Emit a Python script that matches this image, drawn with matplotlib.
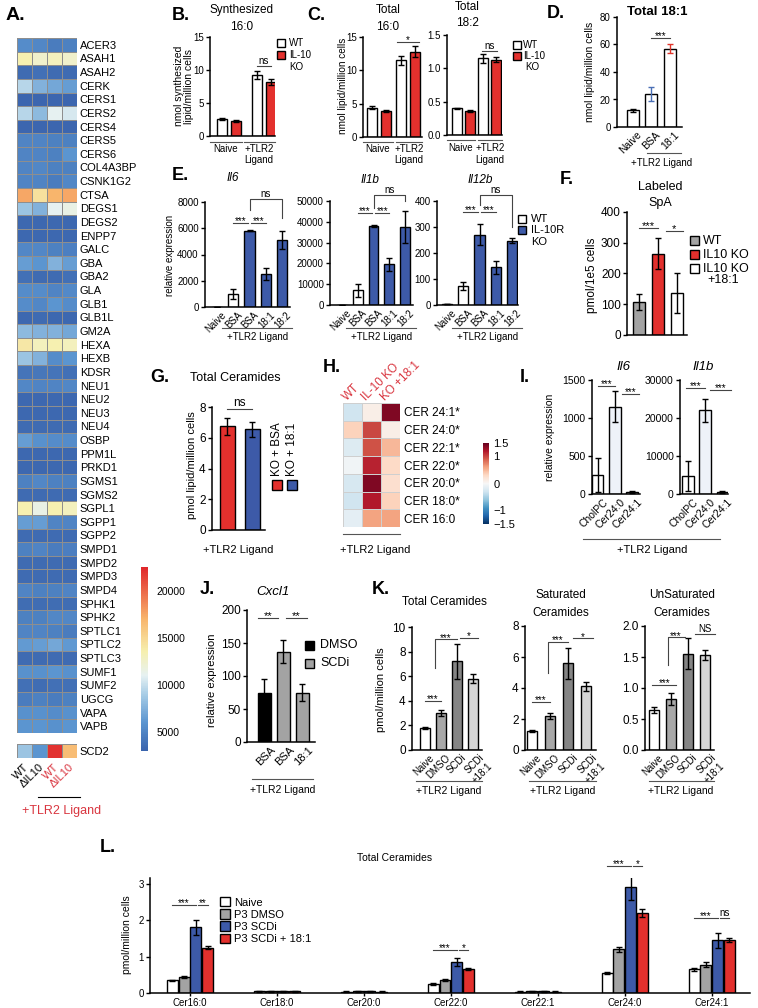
import numpy as np
import matplotlib
matplotlib.use('Agg')
import matplotlib.pyplot as plt
from matplotlib.colors import LinearSegmentedColormap
from matplotlib.patches import Rectangle
from matplotlib.lines import Line2D

W, H = 758, 1008
plt.rcParams['font.family'] = ['Liberation Sans', 'DejaVu Sans']
plt.rcParams['axes.linewidth'] = 1.1
plt.rcParams['xtick.major.width'] = 1.0
plt.rcParams['ytick.major.width'] = 1.0
plt.rcParams['xtick.major.size'] = 3
plt.rcParams['ytick.major.size'] = 3
plt.rcParams['xtick.labelsize'] = 7
plt.rcParams['ytick.labelsize'] = 7
plt.rcParams['xtick.major.pad'] = 1.5
plt.rcParams['ytick.major.pad'] = 1.5

RED = '#e3302d'
BLUE = '#3d5aa8'
GREY = '#a3a3a3'
SIG = '#444444'
LABRED = '#d9353f'

# ---------------- data ----------------
genes = ['ACER3', 'ASAH1', 'ASAH2', 'CERK', 'CERS1', 'CERS2', 'CERS4', 'CERS5', 'CERS6',
         'COL4A3BP', 'CSNK1G2', 'CTSA', 'DEGS1', 'DEGS2', 'ENPP7', 'GALC', 'GBA', 'GBA2',
         'GLA', 'GLB1', 'GLB1L', 'GM2A', 'HEXA', 'HEXB', 'KDSR', 'NEU1', 'NEU2', 'NEU3',
         'NEU4', 'OSBP', 'PPM1L', 'PRKD1', 'SGMS1', 'SGMS2', 'SGPL1', 'SGPP1', 'SGPP2',
         'SMPD1', 'SMPD2', 'SMPD3', 'SMPD4', 'SPHK1', 'SPHK2', 'SPTLC1', 'SPTLC2', 'SPTLC3',
         'SUMF1', 'SUMF2', 'UGCG', 'VAPA', 'VAPB']
gene_expr = [
    [5500, 5200, 4500, 4800], [13500, 12500, 13000, 12500], [3500, 3800, 3500, 3500],
    [9500, 7500, 7000, 6500], [3200, 3200, 3200, 3200], [9500, 8000, 11000, 10500],
    [3200, 3200, 3200, 3200], [5000, 5000, 4800, 4800], [5000, 5000, 4800, 6000],
    [5000, 5200, 4800, 4800], [5000, 5000, 4500, 5200], [17500, 14500, 17000, 17500],
    [8500, 7500, 11000, 11500], [3300, 3300, 3300, 3300], [3300, 3300, 3300, 3300],
    [5200, 5200, 4800, 4700], [6500, 6000, 7500, 6500], [3800, 3500, 3500, 3800],
    [5500, 5500, 5000, 5300], [5500, 5200, 6000, 5500], [3300, 3500, 3300, 3300],
    [8000, 7500, 7500, 7000], [14000, 13000, 13500, 13000], [8500, 7500, 5500, 6000],
    [4000, 4200, 4000, 3800], [5200, 5000, 5000, 5200], [3300, 3300, 3300, 3300],
    [3300, 3300, 3300, 3300], [3500, 3500, 3500, 3500], [6500, 5800, 5500, 5500],
    [3300, 3300, 3300, 3300], [3300, 3300, 3300, 3300], [4800, 5200, 4800, 4800],
    [3500, 3500, 3500, 3500], [13500, 11500, 13500, 13000], [6500, 6500, 5000, 5000],
    [3500, 3500, 3500, 3500], [4800, 5000, 4500, 4600], [3500, 3500, 3500, 3500],
    [3500, 3500, 3500, 3500], [5000, 4800, 4800, 5000], [3600, 3600, 3600, 3600],
    [4800, 4800, 5200, 5200], [5000, 5000, 4800, 4500], [6300, 6500, 7000, 6200],
    [3500, 3500, 3500, 3500], [5800, 5800, 6000, 5800], [3800, 3600, 3800, 3800],
    [4500, 4800, 4500, 4800], [5800, 5800, 5500, 5800], [6000, 6000, 5800, 6000],
]
scd2_expr = [8500, 6000, 22000, 16500]
a_cols = ['WT', 'ΔIL10', 'WT', 'ΔIL10']

b_vals = [2.6, 2.3, 9.2, 8.2]
b_err = [0.15, 0.15, 0.6, 0.5]
c160_vals = [4.4, 3.9, 11.5, 12.8]
c160_err = [0.2, 0.2, 0.7, 0.8]
c182_vals = [0.40, 0.36, 1.15, 1.13]
c182_err = [0.01, 0.01, 0.07, 0.04]

d_labels = ['Naive', 'BSA', '18:1']
d_vals = [12, 24, 57]
d_err = [1.2, 5, 3]

e_labels = ['Naive', 'BSA', 'BSA', '18:1', '18:2']
il6_vals = [20, 1000, 5800, 2500, 5100]
il6_err = [10, 400, 40, 450, 700]
il1b_vals = [100, 7000, 38000, 19500, 37500]
il1b_err = [50, 3000, 500, 3000, 7500]
il12b_vals = [3, 72, 270, 145, 248]
il12b_err = [1, 15, 40, 25, 10]

f_vals = [107, 265, 135]
f_err = [25, 50, 65]

g_vals = [6.75, 6.55]
g_err = [0.55, 0.5]

h_rows = ['CER 24:1*', 'CER 24:0*', 'CER 22:1*', 'CER 22:0*', 'CER 20:0*', 'CER 18:0*', 'CER 16:0']
h_cols = ['WT', 'IL-10 KO', 'KO +18:1']
h_z = [[-0.3, 0.1, 1.4],
       [0.35, 1.0, 0.1],
       [-0.2, 0.95, 0.5],
       [-0.05, 1.15, 0.3],
       [-0.25, 1.4, 0.25],
       [-0.3, 1.2, 0.35],
       [-0.15, 0.6, 0.6]]

i_labels = ['CholPC', 'Cer24:0', 'Cer24:1']
i_il6 = [250, 1150, 25]
i_il6_err = [220, 200, 10]
i_il1b = [4700, 22000, 500]
i_il1b_err = [4000, 3000, 200]

j_labels = ['BSA', 'BSA', '18:1']
j_vals = [75, 137, 75]
j_err = [20, 18, 13]

k_labels = ['Naive', 'DMSO', 'SCDi', 'SCDi\n+18:1']
k_total = [1.8, 3.0, 7.2, 5.8]
k_total_err = [0.1, 0.25, 1.4, 0.35]
k_sat = [1.2, 2.2, 5.6, 4.1]
k_sat_err = [0.06, 0.2, 1.0, 0.3]
k_unsat = [0.65, 0.82, 1.55, 1.53]
k_unsat_err = [0.05, 0.1, 0.25, 0.08]

l_species = ['Cer16:0', 'Cer18:0', 'Cer20:0', 'Cer22:0', 'Cer22:1', 'Cer24:0', 'Cer24:1']
l_groups = ['Naive', 'P3 DMSO', 'P3 SCDi', 'P3 SCDi + 18:1']
l_naive = [0.35, 0.05, 0.04, 0.25, 0.04, 0.55, 0.65]
l_dmso = [0.45, 0.05, 0.05, 0.35, 0.05, 1.2, 0.78]
l_scdi = [1.8, 0.05, 0.05, 0.85, 0.05, 2.9, 1.45]
l_scdi181 = [1.25, 0.05, 0.04, 0.65, 0.04, 2.2, 1.45]
l_naive_err = [0.02, 0.01, 0.01, 0.02, 0.01, 0.03, 0.05]
l_dmso_err = [0.03, 0.01, 0.01, 0.03, 0.01, 0.06, 0.06]
l_scdi_err = [0.2, 0.01, 0.01, 0.12, 0.01, 0.35, 0.2]
l_scdi181_err = [0.05, 0.01, 0.01, 0.03, 0.01, 0.1, 0.06]

# ---------------- helpers ----------------
fig = plt.figure(figsize=(W / 100, H / 100), dpi=100)


def px_ax(x0, y0, x1, y1):
    return fig.add_axes([x0 / W, 1 - y1 / H, (x1 - x0) / W, (y1 - y0) / H])


def ftext(x, y, s, **kw):
    kw.setdefault('ha', 'center')
    kw.setdefault('va', 'center')
    return fig.text(x / W, 1 - y / H, s, **kw)


def fline(x0, x1, y, color='#555555', lw=0.8):
    fig.add_artist(Line2D([x0 / W, x1 / W], [1 - y / H, 1 - y / H], color=color, lw=lw))


def fbox(x, y, s, fc, lw=1.0):
    fig.add_artist(Rectangle((x / W, 1 - (y + s) / H), s / W, s / H, facecolor=fc,
                             edgecolor='black', lw=lw, transform=fig.transFigure))


def bar_ax(rect, pos, vals, errs, colors, width, xlim, ylim, yticks, ytl=None, ecolors=None):
    ax = px_ax(*rect)
    ax.bar(pos, vals, width, color=colors, edgecolor='black', linewidth=1.0, zorder=2)
    ec = ecolors or ['black'] * len(vals)
    for p, v, e, c in zip(pos, vals, errs, ec):
        ax.errorbar(p, v, yerr=e, fmt='none', ecolor=c, elinewidth=1.0, capsize=2.2,
                    capthick=1.0, zorder=3)
    ax.set_xlim(*xlim)
    ax.set_ylim(*ylim)
    ax.set_yticks(yticks)
    ax.set_yticklabels(ytl if ytl else [str(t) for t in yticks])
    ax.spines[['top', 'right']].set_visible(False)
    ax.set_xticks([])
    ax.patch.set_alpha(0)
    return ax


def rot_ticks(ax, pos, labels, fs=7):
    ax.set_xticks(pos)
    ax.set_xticklabels(labels, rotation=45, ha='right', rotation_mode='anchor', fontsize=fs)
    ax.tick_params(axis='x', length=0, pad=2)


def sig(ax, x0, x1, y, txt, legs=None, fs=7):
    if legs:
        xs, ys = [x0, x0, x1, x1], [legs[0], y, y, legs[1]]
    else:
        xs, ys = [x0, x1], [y, y]
    ax.plot(xs, ys, color=SIG, lw=0.8, clip_on=False, zorder=4)
    off = -2.5 if '*' in txt else 0
    ax.annotate(txt, ((x0 + x1) / 2, y), xytext=(0, off), textcoords='offset points',
                ha='center', va='bottom', fontsize=fs, annotation_clip=False)


def ylab(x, y, s, fs=7.5):
    ftext(x, y, s, rotation=90, fontsize=fs, linespacing=1.0)


def letter(x, y, s, fs=13):
    ftext(x, y, s, fontsize=fs, fontweight='bold', ha='left')


# ---------------- A: heatmap ----------------
cmap_a = LinearSegmentedColormap.from_list('a', [
    (0.0, '#3a64ad'), (0.154, '#5b95d0'), (0.308, '#a8cde6'), (0.41, '#e6f1f2'),
    (0.538, '#f6f0b0'), (0.718, '#f8b56c'), (1.0, '#e0262a')])
ax = px_ax(17, 38, 77, 733)
mesh = ax.pcolormesh(np.array(gene_expr), cmap=cmap_a, vmin=3000, vmax=22500,
                     edgecolors='#8e8e8e', linewidth=0.7)
ax.set_xlim(0, 4)
ax.set_ylim(len(genes), 0)
ax.set_xticks([])
ax.yaxis.tick_right()
ax.set_yticks(np.arange(len(genes)) + 0.5)
ax.set_yticklabels(genes, fontsize=8)
ax.tick_params(axis='y', length=0, pad=2)
for s in ax.spines.values():
    s.set_visible(False)

ax = px_ax(17, 744, 77, 758)
ax.pcolormesh(np.array([scd2_expr]), cmap=cmap_a, vmin=3000, vmax=22500,
              edgecolors='#8e8e8e', linewidth=0.7)
ax.set_xlim(0, 4)
ax.set_xticks(np.arange(4) + 0.4)
ax.set_xticklabels(a_cols, rotation=45, ha='right', va='top', rotation_mode='anchor', fontsize=8)
for t, c in zip(ax.get_xticklabels(), ['black', 'black', LABRED, LABRED]):
    t.set_color(c)
ax.tick_params(axis='x', length=0, pad=3)
ax.yaxis.tick_right()
ax.set_yticks([0.5])
ax.set_yticklabels(['SCD2'], fontsize=8)
ax.tick_params(axis='y', length=0, pad=2)
for s in ax.spines.values():
    s.set_visible(False)
fline(38, 80, 797, color='black')
ftext(62, 811, '+TLR2 Ligand', color=LABRED, fontsize=9)

cax = px_ax(141, 567, 148, 751)
cb = fig.colorbar(mesh, cax=cax)
cb.outline.set_visible(False)
cb.set_ticks([5000, 10000, 15000, 20000])
cb.set_ticklabels(['5000', '10000', '15000', '20000'])
cax.tick_params(length=0, labelsize=7.5, pad=6)
letter(6, 16, 'A.', fs=14)

# ---------------- B ----------------
pos4 = [0, 1, 2.5, 3.5]
ax = bar_ax((210, 37, 275, 136), pos4, b_vals, b_err, ['white', RED, 'white', RED], 0.7,
            (-0.86, 3.8), (0, 15), [0, 5, 10, 15])
sig(ax, 2.5, 3.5, 10.6, 'ns')
letter(172, 15, 'B.')
ftext(242, 10, 'Synthesized', fontsize=8.5)
ftext(242, 27, '16:0', fontsize=8.5)
ylab(184, 86, 'nmol synthesized\nlipid/million cells')
fline(210, 242, 142)
fline(244, 275, 142)
ftext(226, 149, 'Naive', fontsize=7)
ftext(259, 149, '+TLR2', fontsize=7)
ftext(259, 160, 'Ligand', fontsize=7)
fbox(277, 39, 8, 'white')
fbox(277, 51, 8, RED)
ftext(289, 43, 'WT', fontsize=7, ha='left')
ftext(289, 55, 'IL-10', fontsize=7, ha='left')
ftext(289, 67, 'KO', fontsize=7, ha='left')

# ---------------- C ----------------
pos4c = [0, 1, 2.1, 3.1]
ax = bar_ax((363, 37, 422, 137), pos4c, c160_vals, c160_err, ['white', RED, 'white', RED], 0.72,
            (-0.64, 3.6), (0, 15), [0, 5, 10, 15])
sig(ax, 1.8, 3.4, 14.3, '*')
fline(363, 393, 142)
fline(396, 422, 142)
ftext(378, 149, 'Naive', fontsize=7)
ftext(409, 149, '+TLR2', fontsize=7)
ftext(409, 160, 'Ligand', fontsize=7)
ftext(388, 10, 'Total', fontsize=8.5)
ftext(388, 27, '16:0', fontsize=8.5)
ylab(343, 86, 'nmol lipid/million cells', fs=7.2)
letter(307, 15, 'C.')

ax = bar_ax((447, 35, 502, 135), [0, 1, 2, 3], c182_vals, c182_err, ['white', RED, 'white', RED],
            0.72, (-0.77, 3.46), (0, 1.5), [0, 0.5, 1.0, 1.5], ['0.0', '0.5', '1.0', '1.5'])
sig(ax, 1.9, 3.1, 1.26, 'ns')
fline(447, 475, 140)
fline(478, 502, 140)
ftext(461, 148, 'Naive', fontsize=7)
ftext(490, 148, '+TLR2', fontsize=7)
ftext(490, 160, 'Ligand', fontsize=7)
ftext(467, 7, 'Total', fontsize=8.5)
ftext(467, 23, '18:2', fontsize=8.5)
fbox(513, 41, 8, 'white')
fbox(513, 52, 8, RED)
ftext(523, 45, 'WT', fontsize=7, ha='left')
ftext(523, 56, 'IL-10', fontsize=7, ha='left')
ftext(525, 67, 'KO', fontsize=7, ha='left')

# ---------------- D ----------------
ax = bar_ax((617, 17, 682, 127), [0, 1, 2], d_vals, d_err, ['white'] * 3, 0.65,
            (-0.86, 2.65), (0, 80), [0, 20, 40, 60, 80],
            ecolors=['black', '#4a6fb5', '#e0352b'])
rot_ticks(ax, [0.2, 1.2, 2.2], d_labels, fs=7.5)
sig(ax, 1, 2, 65, '***')
fline(647, 681, 153)
ftext(662, 163, '+TLR2 Ligand', fontsize=7)
ftext(657, 12, 'Total 18:1', fontsize=9.5, fontweight='bold')
ylab(590, 72, 'nmol lipid/million cells')
letter(547, 13, 'D.')

# ---------------- E ----------------
e_cols = ['white', 'white', BLUE, BLUE, BLUE]
pos5 = [0, 1, 2, 3, 4]
ax = bar_ax((205, 202, 290, 307), pos5, il6_vals, il6_err, e_cols, 0.62, (-0.74, 4.49),
            (0, 8000), [0, 2000, 4000, 6000, 8000])
rot_ticks(ax, [p + 0.25 for p in pos5], e_labels)
sig(ax, 1, 1.9, 6400, '***')
sig(ax, 2.1, 3, 6400, '***')
sig(ax, 2, 4, 8200, 'ns', legs=(7400, 6800))
ftext(233, 178, 'Il6', fontsize=8.5, style='italic')
ylab(170, 255, 'relative expression', fs=7)
fline(222, 292, 328)
ftext(258, 337, '+TLR2 Ligand', fontsize=7)
letter(172, 176, 'E.')

ax = bar_ax((330, 201, 413, 305), pos5, il1b_vals, il1b_err, e_cols, 0.62, (-0.76, 4.5),
            (0, 50000), [0, 10000, 20000, 30000, 40000, 50000])
rot_ticks(ax, [p + 0.25 for p in pos5], e_labels)
sig(ax, 1, 1.9, 44200, '***')
sig(ax, 2.1, 3, 44200, '***')
sig(ax, 2, 4, 52900, 'ns', legs=(46500, 50000))
ftext(370, 180, 'Il1b', fontsize=8.5, style='italic')
fline(346, 416, 328)
ftext(382, 337, '+TLR2 Ligand', fontsize=7)

ax = bar_ax((437, 201, 518, 305), pos5, il12b_vals, il12b_err, e_cols, 0.62, (-0.62, 4.37),
            (0, 400), [0, 100, 200, 300, 400])
rot_ticks(ax, [p + 0.25 for p in pos5], e_labels)
sig(ax, 1, 1.9, 358, '***')
sig(ax, 2.1, 3, 358, '***')
sig(ax, 2, 4, 423, 'ns', legs=(385, 300))
ftext(480, 180, 'Il12b', fontsize=8.5, style='italic')
fline(452, 522, 328)
ftext(488, 337, '+TLR2 Ligand', fontsize=7)
fbox(518, 215, 8, 'white')
fbox(518, 226, 8, BLUE)
ftext(531, 219, 'WT', fontsize=8, ha='left')
ftext(531, 230, 'IL-10R', fontsize=8, ha='left')
ftext(531, 242, 'KO', fontsize=8, ha='left')

# ---------------- F ----------------
ax = bar_ax((627, 212, 687, 335), [0, 1, 2], f_vals, f_err, [GREY, RED, 'white'], 0.63,
            (-0.63, 2.53), (0, 400), [0, 100, 200, 300, 400])
ax.tick_params(axis='y', labelsize=8.5)
sig(ax, 0, 1, 348, '***', fs=8)
sig(ax, 1.4, 2.3, 339, '*', fs=8)
ftext(660, 187, 'Labeled', fontsize=9)
ftext(660, 203, 'SpA', fontsize=9)
ylab(592, 275, 'pmol/1e5 cells', fs=8.5)
letter(560, 180, 'F.')
fbox(690, 236, 9, GREY)
fbox(690, 250, 9, RED)
fbox(690, 264, 9, 'white')
ftext(703, 241, 'WT', fontsize=9, ha='left')
ftext(703, 255, 'IL10 KO', fontsize=9, ha='left')
ftext(703, 269, 'IL10 KO', fontsize=9, ha='left')
ftext(707, 280, '+18:1', fontsize=9, ha='left')

# ---------------- G ----------------
ax = bar_ax((212, 407, 265, 530), [0, 1], g_vals, g_err, [RED, BLUE], 0.6, (-0.6, 1.52),
            (0, 8), [0, 2, 4, 6, 8])
ax.tick_params(axis='y', labelsize=8.5)
sig(ax, 0, 1, 7.9, 'ns', fs=8.5)
ftext(235, 378, 'Total Ceramides', fontsize=9)
ylab(192, 465, 'pmol lipid/million cells', fs=8)
ftext(238, 550, '+TLR2 Ligand', fontsize=8)
letter(150, 378, 'G.')
fbox(272, 480, 10, RED)
fbox(287, 480, 10, BLUE)
ftext(277, 476, 'KO + BSA', rotation=90, fontsize=8.5, va='bottom')
ftext(292, 476, 'KO + 18:1', rotation=90, fontsize=8.5, va='bottom')

# ---------------- H ----------------
ax = px_ax(343, 403, 400, 527)
hm = ax.pcolormesh(np.array(h_z), cmap='RdBu_r', vmin=-1.5, vmax=1.5,
                   edgecolors='#cfcfcf', linewidth=0.6)
ax.set_xlim(0, 3)
ax.set_ylim(len(h_rows), 0)
ax.set_xticks([])
ax.yaxis.tick_right()
ax.set_yticks(np.arange(len(h_rows)) + 0.5)
ax.set_yticklabels(h_rows, fontsize=8.5)
ax.tick_params(axis='y', length=0, pad=3)
for s in ax.spines.values():
    s.set_visible(False)
for i, c in enumerate(h_cols):
    ax.text(i + 0.3, 1.0, c, transform=ax.get_xaxis_transform(), rotation=45,
            rotation_mode='anchor', ha='left', va='bottom', fontsize=8.5, color=LABRED)
cax = px_ax(483, 443, 489, 524)
cb = fig.colorbar(hm, cax=cax)
cb.outline.set_visible(False)
cb.set_ticks([-1.5, -1, 0, 1, 1.5])
cb.set_ticklabels(['\u22121.5', '\u22121', '0', '1', '1.5'])
cax.tick_params(length=0, labelsize=8, pad=3)
fline(343, 400, 534)
ftext(375, 550, '+TLR2 Ligand', fontsize=8)
letter(323, 368, 'H.')

# ---------------- I ----------------
pos3 = [0, 1, 2]
ax = bar_ax((592, 380, 640, 494), pos3, i_il6, i_il6_err, ['white', '#eef2f9', 'white'], 0.65,
            (-0.35, 2.47), (0, 1500), [0, 500, 1000, 1500])
ax.tick_params(axis='y', labelsize=7.5)
rot_ticks(ax, [p + 0.3 for p in pos3], i_labels, fs=7.5)
sig(ax, 0, 1, 1420, '***')
sig(ax, 1.4, 2.4, 1316, '***')
ftext(623, 367, 'Il6', fontsize=9.5, style='italic')
ylab(550, 437, 'relative expression', fs=7.5)
ax = bar_ax((680, 380, 728, 494), pos3, i_il1b, i_il1b_err, ['white', '#eef2f9', 'white'], 0.65,
            (-0.47, 2.35), (0, 30000), [0, 10000, 20000, 30000])
ax.tick_params(axis='y', labelsize=7.5)
rot_ticks(ax, [p + 0.3 for p in pos3], i_labels, fs=7.5)
sig(ax, -0.1, 1, 27900, '***')
sig(ax, 1.3, 2.5, 27400, '***')
ftext(703, 367, 'Il1b', fontsize=9.5, style='italic')
fline(583, 720, 539)
ftext(652, 550, '+TLR2 Ligand', fontsize=8)
letter(520, 377, 'I.')

# ---------------- J ----------------
ax = bar_ax((247, 610, 315, 742), pos3, j_vals, j_err, ['black', GREY, GREY], 0.68,
            (-0.9, 2.68), (0, 200), [0, 50, 100, 150, 200])
ax.tick_params(axis='y', labelsize=8.5)
rot_ticks(ax, [p + 0.3 for p in pos3], j_labels, fs=8)
sig(ax, -0.3, 0.75, 188, '**', fs=8)
sig(ax, 1.15, 2.25, 188, '**', fs=8)
ftext(273, 592, 'Cxcl1', fontsize=9.5, style='italic')
ylab(212, 680, 'relative expression', fs=8)
fbox(305, 641, 9, 'black')
fbox(305, 659, 9, GREY)
ftext(320, 645, 'DMSO', fontsize=9, ha='left')
ftext(320, 663, 'SCDi', fontsize=9, ha='left')
fline(252, 313, 779)
ftext(283, 790, '+TLR2 Ligand', fontsize=7.5)
letter(200, 590, 'J.')

# ---------------- K ----------------
k_cols = ['white', '#a8a8a8', '#858585', '#d6d6d6']
ax = bar_ax((412, 627, 482, 750), [0, 1, 2, 3], k_total, k_total_err, k_cols, 0.63,
            (-0.81, 3.56), (0, 10), [0, 2, 4, 6, 8, 10])
ax.tick_params(axis='y', labelsize=8.5)
rot_ticks(ax, [0.25, 1.25, 2.25, 3.35], k_labels, fs=7)
sig(ax, 0, 1, 4.0, '***')
sig(ax, 0.6, 2, 9.0, '***', legs=(6.7, 9.0))
sig(ax, 2.2, 3.3, 9.1, '*')
ftext(444, 602, 'Total Ceramides', fontsize=8.5)
ylab(381, 690, 'pmol/million cells', fs=8)
fline(416, 482, 781)
ftext(449, 791, '+TLR2 Ligand', fontsize=7.5)
letter(372, 590, 'K.')

ax = bar_ax((525, 626, 596, 750), [0, 1, 2, 3], k_sat, k_sat_err, k_cols, 0.6,
            (-0.39, 3.56), (0, 8), [0, 2, 4, 6, 8])
ax.tick_params(axis='y', labelsize=8.5)
rot_ticks(ax, [0.25, 1.25, 2.25, 3.35], k_labels, fs=7)
sig(ax, 0, 1, 3.1, '***')
sig(ax, 0.9, 2, 7.0, '***', legs=(5.0, 7.0))
sig(ax, 2.3, 3.4, 7.2, '*')
ftext(561, 595, 'Saturated', fontsize=8.5)
ftext(561, 613, 'Ceramides', fontsize=8.5)
fline(529, 596, 781)
ftext(563, 791, '+TLR2 Ligand', fontsize=7.5)

ax = bar_ax((645, 626, 714, 750), [0, 1, 2, 3], k_unsat, k_unsat_err, k_cols, 0.6,
            (-0.53, 3.53), (0, 2.0), [0, 0.5, 1.0, 1.5, 2.0],
            ['0.0', '0.5', '1.0', '1.5', '2.0'])
ax.tick_params(axis='y', labelsize=8.5)
rot_ticks(ax, [0.25, 1.25, 2.25, 3.35], k_labels, fs=7)
sig(ax, -0.1, 1.3, 1.05, '***')
sig(ax, 0.8, 1.8, 1.82, '***', legs=(1.37, 1.82))
sig(ax, 2.4, 3.6, 1.87, 'NS')
ftext(682, 595, 'UnSaturated', fontsize=8.5)
ftext(682, 613, 'Ceramides', fontsize=8.5)
fline(649, 714, 781)
ftext(681, 791, '+TLR2 Ligand', fontsize=7.5)

# ---------------- L ----------------
ax = px_ax(150, 878, 750, 993)
xg = np.arange(len(l_species))
bw = 0.126
series = [(l_naive, l_naive_err, 'white'), (l_dmso, l_dmso_err, GREY),
          (l_scdi, l_scdi_err, BLUE), (l_scdi181, l_scdi181_err, RED)]
for k, ((vals, errs, col), lab) in enumerate(zip(series, l_groups)):
    off = (k - 1.5) * 0.135
    ax.bar(xg + off, vals, bw, color=col, edgecolor='black', linewidth=1.0, zorder=2, label=lab)
    ax.errorbar(xg + off, vals, yerr=errs, fmt='none', ecolor='black', elinewidth=1.0,
                capsize=2, capthick=1.0, zorder=3)
ax.set_xlim(-0.46, 6.44)
ax.set_ylim(0, 3.16)
ax.set_yticks([0, 1, 2, 3])
ax.set_xticks(xg)
ax.set_xticklabels(l_species, fontsize=7)
ax.tick_params(axis='x', length=2)
ax.spines[['top', 'right']].set_visible(False)
ax.patch.set_alpha(0)
o = 0.135
sig(ax, -1.5 * o, 0.5 * o, 2.42, '***')
sig(ax, 0.5 * o + 0.03, 1.5 * o, 2.42, '**')
sig(ax, 3 - 1.5 * o, 3 + 0.5 * o, 1.18, '***')
sig(ax, 3 + 0.5 * o + 0.03, 3 + 1.5 * o, 1.18, '*')
sig(ax, 5 - 1.5 * o, 5 + 0.5 * o, 3.49, '***')
sig(ax, 5 + 0.5 * o + 0.03, 5 + 1.5 * o, 3.49, '*')
sig(ax, 6 - 1.5 * o, 6 + 0.5 * o, 2.06, '***')
sig(ax, 6 + 0.5 * o + 0.03, 6 + 1.5 * o, 2.06, 'ns')
ax.legend(loc='upper left', bbox_to_anchor=(0.1, 0.92), frameon=False, fontsize=8,
          handlelength=0.9, handleheight=0.9, handletextpad=0.4, labelspacing=0.15)
ftext(395, 858, 'Total Ceramides', fontsize=7.5)
ylab(127, 935, 'pmol/million cells', fs=7.5)
letter(100, 848, 'L.')

fig.savefig('out.png', dpi=100)
